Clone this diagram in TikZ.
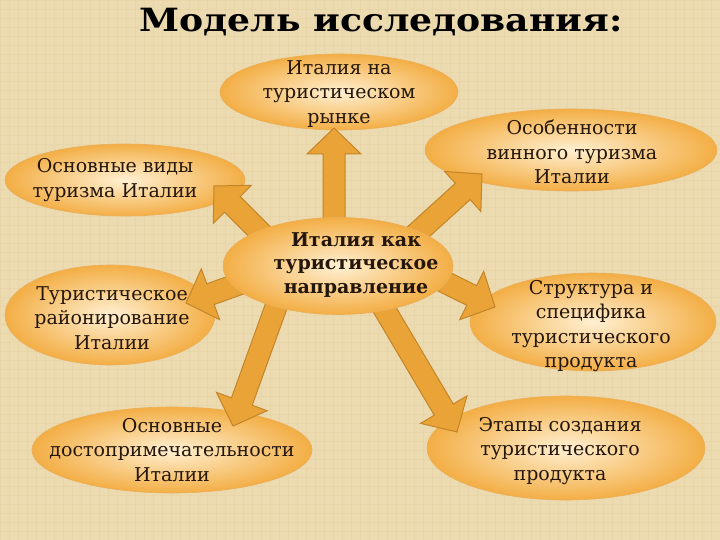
\documentclass[tikz,border=0pt]{standalone}
\usepackage{fontspec}
\setmainfont{DejaVu Serif}
\usetikzlibrary{shapes.geometric,calc}
\definecolor{bg}{HTML}{ECDBB0}
\definecolor{bgline}{HTML}{E2CE9C}
\definecolor{arrfill}{HTML}{E9A336}
\definecolor{arredge}{HTML}{C4852A}
\definecolor{ellin}{HTML}{FFF0D2}
\definecolor{ellout}{HTML}{F3AE45}
\definecolor{ellrim}{HTML}{EBAE5A}
\definecolor{txt}{HTML}{24160A}
\newcommand\blkarrow[2]{%
  \coordinate (#1-b) at ($(#2)!26pt!(#1)$);
  \filldraw[fill=arrfill, draw=arredge, line width=1pt, line join=miter]
    ($(#1)!11pt!90:(#2)$) -- ($(#1-b)!11pt!90:(#2)$) -- ($(#1-b)!27pt!90:(#2)$)
    -- (#2) -- ($(#1-b)!27pt!-90:(#2)$) -- ($(#1-b)!11pt!-90:(#2)$)
    -- ($(#1)!11pt!-90:(#2)$) -- cycle;}
\begin{document}
\begin{tikzpicture}[x=1pt,y=-1pt,
  ell/.style={ellipse, draw=ellrim, line width=0.6pt, inner color=ellin, outer color=ellout, inner sep=0pt},
  lbl/.style={align=center, text=txt, font=\fontsize{19}{24.5}\selectfont},
  lblb/.style={align=center, text=txt, font=\fontsize{19}{23.5}\selectfont\bfseries}]
\fill[bg] (0,0) rectangle (720,540);
\useasboundingbox (0,0) rectangle (720,540);
\foreach \i in {0,9,...,720} \draw[bgline, line width=0.4pt, opacity=0.35] (\i,0) -- (\i,540);
\foreach \j in {0,9,...,540} \draw[bgline, line width=0.4pt, opacity=0.35] (0,\j) -- (720,\j);

\node[anchor=base, font=\fontsize{32}{32}\selectfont\bfseries, text=black] (title) at (381,32) {\scalebox{1.13}[1]{Модель исследования:}};

% outer ellipses
\node[ell, minimum width=238pt, minimum height=76pt] (eTop) at (339,92) {};
\node[ell, minimum width=292pt, minimum height=82pt] (eTR) at (571,150) {};
\node[ell, minimum width=240pt, minimum height=72pt] (eL) at (125,180) {};
\node[ell, minimum width=210pt, minimum height=100pt] (eML) at (110,315) {};
\node[ell, minimum width=246pt, minimum height=98pt] (eMR) at (593,322) {};
\node[ell, minimum width=280pt, minimum height=86pt] (eBL) at (172,450) {};
\node[ell, minimum width=278pt, minimum height=104pt] (eBR) at (566,448) {};

% arrow start points and tips
\coordinate (sU) at (334,268);  \coordinate (tU) at (334,128);
\coordinate (sUL) at (290,262); \coordinate (tUL) at (214,186);
\coordinate (sUR) at (385,262); \coordinate (tUR) at (482,174);
\coordinate (sL) at (300,262);  \coordinate (tL) at (186,303);
\coordinate (sR) at (390,255);  \coordinate (tR) at (495,307);
\coordinate (sDL) at (290,268); \coordinate (tDL) at (233,426);
\coordinate (sDR) at (360,268); \coordinate (tDR) at (457,432);
\blkarrow{sU}{tU}
\blkarrow{sUL}{tUL}
\blkarrow{sUR}{tUR}
\blkarrow{sL}{tL}
\blkarrow{sR}{tR}
\blkarrow{sDL}{tDL}
\blkarrow{sDR}{tDR}

% central ellipse
\node[ell, minimum width=230pt, minimum height=97pt] (eC) at (338,266) {};

% texts
\node[lbl] (xTop) at (339,94) {Италия на\\туристическом\\рынке};
\node[lbl] (xTR) at (572,152) {Особенности\\винного туризма\\Италии};
\node[lbl] (xL) at (115,180) {Основные виды\\туризма Италии};
\node[lbl] (xML) at (112,318) {Туристическое\\районирование\\Италии};
\node[lbl] (xMR) at (591,326) {Структура и\\специфика\\туристического\\продукта};
\node[lbl] (xBL) at (172,450) {Основные\\достопримечательности\\Италии};
\node[lbl] (xBR) at (560,451) {Этапы создания\\туристического\\продукта};
\node[lblb] (xC) at (356,265) {Италия как\\туристическое\\направление};
\end{tikzpicture}
\end{document}
